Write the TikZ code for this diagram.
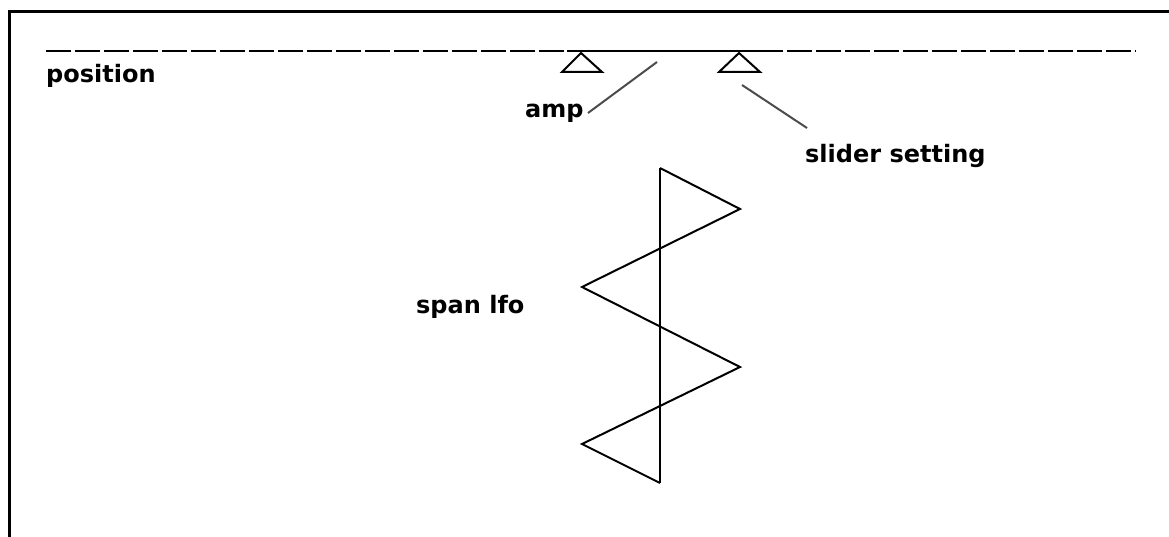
\documentclass[tikz,border=0pt]{standalone}
\usepackage{fontspec}
\setmainfont{DejaVu Sans}
\begin{document}
\begin{tikzpicture}[x=1pt,y=-1pt,
  lbl/.style={font=\bfseries\fontsize{24}{28}\selectfont, inner sep=0pt, anchor=base west},
  frame/.style={line width=3pt},
  track/.style={line width=2.4pt, dash pattern=on 25pt off 4pt},
  solidtrack/.style={line width=2.4pt},
  pivot/.style={line width=2pt},
  leader/.style={line width=2pt, gray!60!black},
  wave/.style={line width=2pt, line join=miter}]
\useasboundingbox (0,0) rectangle (1169,537);
% frame (top and left)
\draw[frame] (1169,12) -- (9,12) -- (9,537);
% track
\coordinate (tl) at (46,51);
\coordinate (ta) at (567,51);
\coordinate (tb) at (758,51);
\coordinate (tr) at (1136,51);
\draw[track] (tl) -- (ta);
\draw[solidtrack] (ta) -- (tb);
\draw[track] (tb) -- (tr);
% triangles
\coordinate (amppt) at (581,53);
\coordinate (slpt) at (739,53);
\draw[pivot] (amppt) -- (562,72) -- (602,72) -- cycle;
\draw[pivot] (slpt) -- (719,72) -- (760,72) -- cycle;
% labels
\node[lbl] (position) at (46,83) {position};
\node[lbl] (amp) at (525,118) {amp};
\node[lbl] (slider) at (805,163) {slider setting};
\node[lbl] (span) at (416,313) {span lfo};
% leader lines
\coordinate (ampA) at (588,113);
\coordinate (ampB) at (657,62);
\coordinate (slA) at (742,85);
\coordinate (slB) at (807,128);
\draw[leader] (ampA) -- (ampB);
\draw[leader] (slA) -- (slB);
% lfo zigzag
\coordinate (w0) at (660,168);
\coordinate (w1) at (740,209);
\coordinate (w2) at (582,287);
\coordinate (w3) at (740,367);
\coordinate (w4) at (582,444);
\coordinate (w5) at (660,483);
\draw[wave] (w0) -- (w5);
\draw[wave] (w0) -- (w1) -- (w2) -- (w3) -- (w4) -- (w5);
\end{tikzpicture}
\end{document}
